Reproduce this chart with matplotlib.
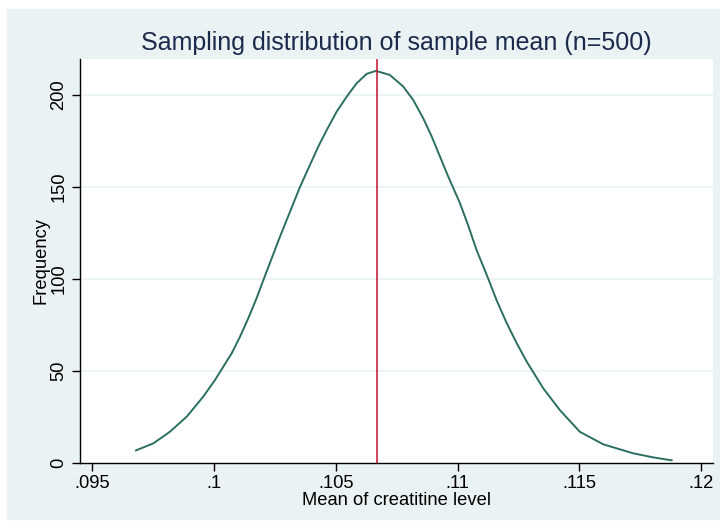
import matplotlib
matplotlib.use('Agg')
from matplotlib import pyplot as plt
from matplotlib.patches import Rectangle

# points
mean_x = [0.09680, 0.09751, 0.09819, 0.09888, 0.09956, 0.10004, 0.10073, 0.10107,
          0.10141, 0.10175, 0.10205, 0.10271, 0.10353, 0.10428, 0.10463, 0.10504,
          0.10545, 0.10586, 0.10627, 0.10665, 0.10722, 0.10777, 0.10818, 0.10859,
          0.10894, 0.10928, 0.10962, 0.11010, 0.11044, 0.11078, 0.11126, 0.11160,
          0.11202, 0.11243, 0.11284, 0.11352, 0.11420, 0.11502, 0.11598, 0.11721,
          0.11803, 0.11879]
freq = [6.7, 10.5, 16.8, 25.0, 35.9, 44.9, 59.5, 68.5,
        78.5, 89.4, 100.0, 122.8, 149.8, 171.7, 180.8, 190.8,
        198.9, 206.2, 211.3, 212.9, 210.7, 204.4, 197.1, 187.2,
        177.2, 166.3, 155.4, 141.0, 128.8, 115.6, 100.0, 88.4,
        75.8, 64.9, 54.9, 40.4, 28.6, 16.8, 10.0, 5.1,
        2.9, 1.3]
sample_mean = 0.10668

x_ticks = [0.095, 0.1, 0.105, 0.11, 0.115, 0.12]
x_labels = ['.095', '.1', '.105', '.11', '.115', '.12']
y_ticks = [0, 50, 100, 150, 200]

plt.rcParams['font.family'] = ['Liberation Sans', 'DejaVu Sans']
bg = '#eaf2f3'

fig = plt.figure(figsize=(7.2, 5.29), dpi=100)
# light graph region behind the white plot region
fig.patches.append(Rectangle((7/720, 1-519/529), 1-7/720, 510/529,
                             transform=fig.transFigure, color=bg, zorder=-10))
ax = fig.add_axes([80/720, 1-462.7/529, 633.3/720, 403.4/529])
ax.set_facecolor('white')

ax.plot(mean_x, freq, color='#2b6f62', lw=1.4, zorder=3)
ax.axvline(sample_mean, color='#c8102e', lw=1.1, zorder=4)

ax.set_xlim(0.0945, 0.1205)
ax.set_ylim(0, 219.2)
ax.set_xticks(x_ticks)
ax.set_xticklabels(x_labels)
ax.set_yticks(y_ticks)
ax.set_yticklabels([str(v) for v in y_ticks], rotation=90, va='center')
for v in y_ticks[1:]:
    ax.axhline(v, color=bg, lw=1.2, zorder=1)

for s in ['top', 'right']:
    ax.spines[s].set_visible(False)
for s in ['left', 'bottom']:
    ax.spines[s].set_linewidth(1.0)
ax.tick_params(axis='both', direction='out', length=6, width=1.0, labelsize=13.2, pad=3)

ax.set_xlabel('Mean of creatitine level', fontsize=13.2, labelpad=0)
ax.set_ylabel('Frequency', fontsize=13.2, labelpad=1)
ax.set_title('Sampling distribution of sample mean (n=500)', fontsize=18,
             color='#1c2a4c', pad=7)

fig.savefig('out.png', dpi=100)
